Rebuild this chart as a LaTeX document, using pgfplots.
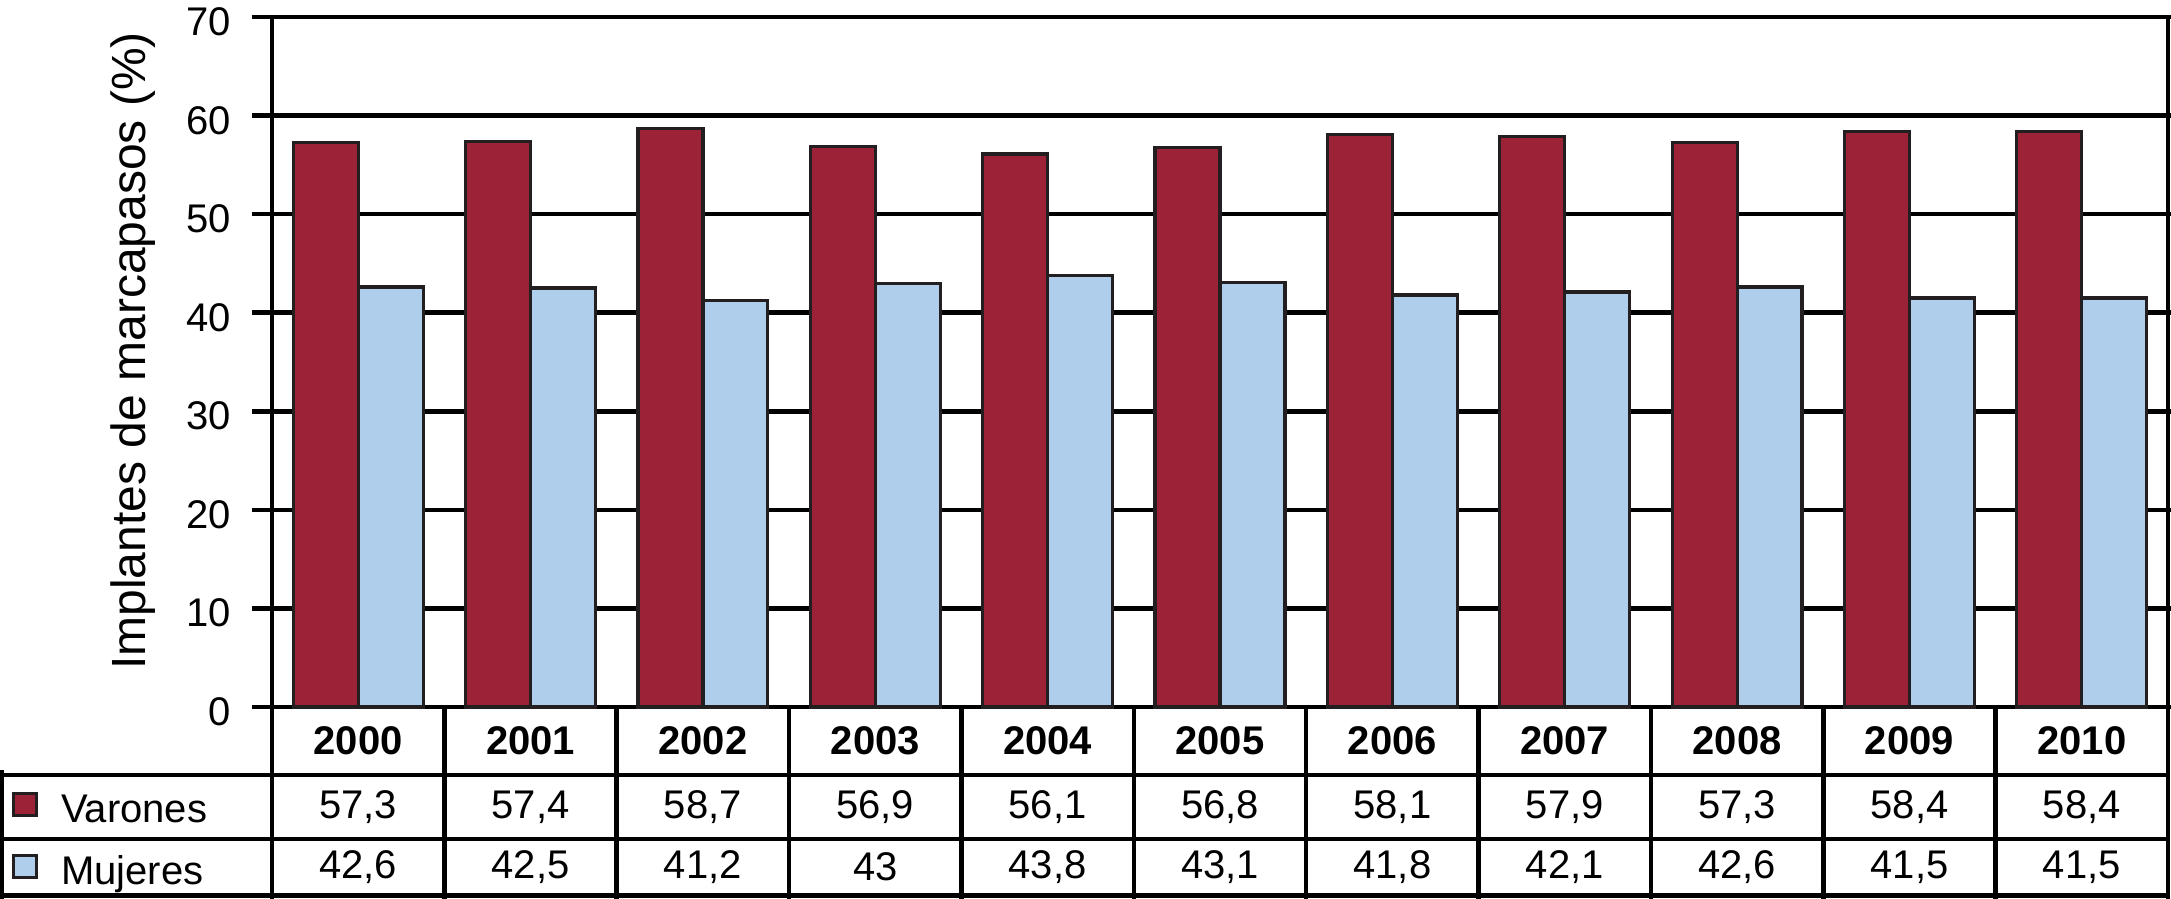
\documentclass[border=0pt]{standalone}
\usepackage{fontspec}
\setmainfont{Liberation Sans}
\usepackage{pgfplots}
\pgfplotsset{compat=1.18}
\usepackage{pgfplotstable}
\definecolor{varon}{RGB}{156,34,56}
\definecolor{mujer}{RGB}{174,206,236}
\definecolor{edge}{RGB}{35,31,32}

\pgfplotstableread{
x year v m
0 2000 57.3 42.6
1 2001 57.4 42.5
2 2002 58.7 41.2
3 2003 56.9 43
4 2004 56.1 43.8
5 2005 56.8 43.1
6 2006 58.1 41.8
7 2007 57.9 42.1
8 2008 57.3 42.6
9 2009 58.4 41.5
10 2010 58.4 41.5
}\data

\begin{document}
\begin{tikzpicture}
\begin{axis}[name=ax, scale only axis, width=474pt, height=172.5pt,
  xmin=-0.5, xmax=10.5, ymin=0, ymax=70, ytick={0,10,...,70}, xtick=\empty,
  clip=false, axis line style={line width=1.15pt, black},
  ymajorgrids, grid style={line width=1.15pt, black},
  major tick length=5pt, tick align=outside, ytick style={line width=1.15pt, black},
  /pgf/number format/assume math mode=true,
  yticklabel style={font=\fontsize{10}{12}\selectfont, inner sep=0pt, xshift=-5pt, yshift=-1.2pt},
  ylabel={Implantes de marcapasos (\%)},
  ylabel style={font=\fontsize{12}{14}\selectfont, at={(axis description cs:-0.0733,0.516)}, anchor=center},
  legend style={at={(axis cs:-2.0085,-8.623)}, anchor=north west, draw=none, fill=none,
    inner sep=0pt, outer sep=0pt, font=\fontsize{10}{12}\selectfont,
    row sep=5.25pt, column sep=5.75pt,
    nodes={inner sep=0pt, text height=7.5pt, text depth=2.5pt}},
  legend cell align=left,
  legend image code/.code={\draw[#1, line width=0.8pt] (0pt,-0.75pt) rectangle (5.75pt,4.75pt);},
  textrow/.style={forget plot, only marks, mark=*, mark size=0pt,
    mark options={draw=none, fill=none}, point meta=explicit, nodes near coords,
    every node near coord/.append style={anchor=center, font=\fontsize{10}{12}\selectfont, text=black, inner sep=0pt}},
]
\addplot[ybar, bar width=0.377, bar shift=-0.1885, fill=varon, draw=edge, line width=0.8pt]
  table[x=x, y=v]{\data};
\addlegendentry{Varones}
\addplot[ybar, bar width=0.377, bar shift=0.1885, fill=mujer, draw=edge, line width=0.8pt]
  table[x=x, y=m]{\data};
\addlegendentry{Mujeres}

% table grid
\draw[line width=1.15pt, black]
  (axis cs:-2.0665,-6.90) -- (axis cs:10.5,-6.90)
  (axis cs:-2.0665,-13.39) -- (axis cs:10.5,-13.39)
  (axis cs:-2.0665,-19.12) -- (axis cs:10.5,-19.12)
  (axis cs:-2.0665,-6.40) -- (axis cs:-2.0665,-19.62)
  (axis cs:-0.5,0) -- (axis cs:-0.5,-19.62)
  (axis cs:0.5,0) -- (axis cs:0.5,-19.62)
  (axis cs:1.5,0) -- (axis cs:1.5,-19.62)
  (axis cs:2.5,0) -- (axis cs:2.5,-19.62)
  (axis cs:3.5,0) -- (axis cs:3.5,-19.62)
  (axis cs:4.5,0) -- (axis cs:4.5,-19.62)
  (axis cs:5.5,0) -- (axis cs:5.5,-19.62)
  (axis cs:6.5,0) -- (axis cs:6.5,-19.62)
  (axis cs:7.5,0) -- (axis cs:7.5,-19.62)
  (axis cs:8.5,0) -- (axis cs:8.5,-19.62)
  (axis cs:9.5,0) -- (axis cs:9.5,-19.62)
  (axis cs:10.5,0) -- (axis cs:10.5,-19.62);

% table text
\addplot[textrow, nodes near coords={\bfseries\pgfmathprintnumber[1000 sep={}]{\pgfplotspointmeta}}]
  table[x=x, y expr=-3.45, meta=year]{\data};
\addplot[textrow, nodes near coords={\pgfmathprintnumber[use comma, 1000 sep={}]{\pgfplotspointmeta}}]
  table[x=x, y expr=-10.14, meta=v]{\data};
\addplot[textrow, nodes near coords={\pgfmathprintnumber[use comma, 1000 sep={}]{\pgfplotspointmeta}}]
  table[x=x, y expr=-16.23, meta=m]{\data};
\end{axis}
\pgfresetboundingbox
\path ([xshift=-68pt,yshift=-48pt]ax.south west) rectangle ([xshift=0.75pt,yshift=4.25pt]ax.north east);
\end{tikzpicture}
\end{document}
